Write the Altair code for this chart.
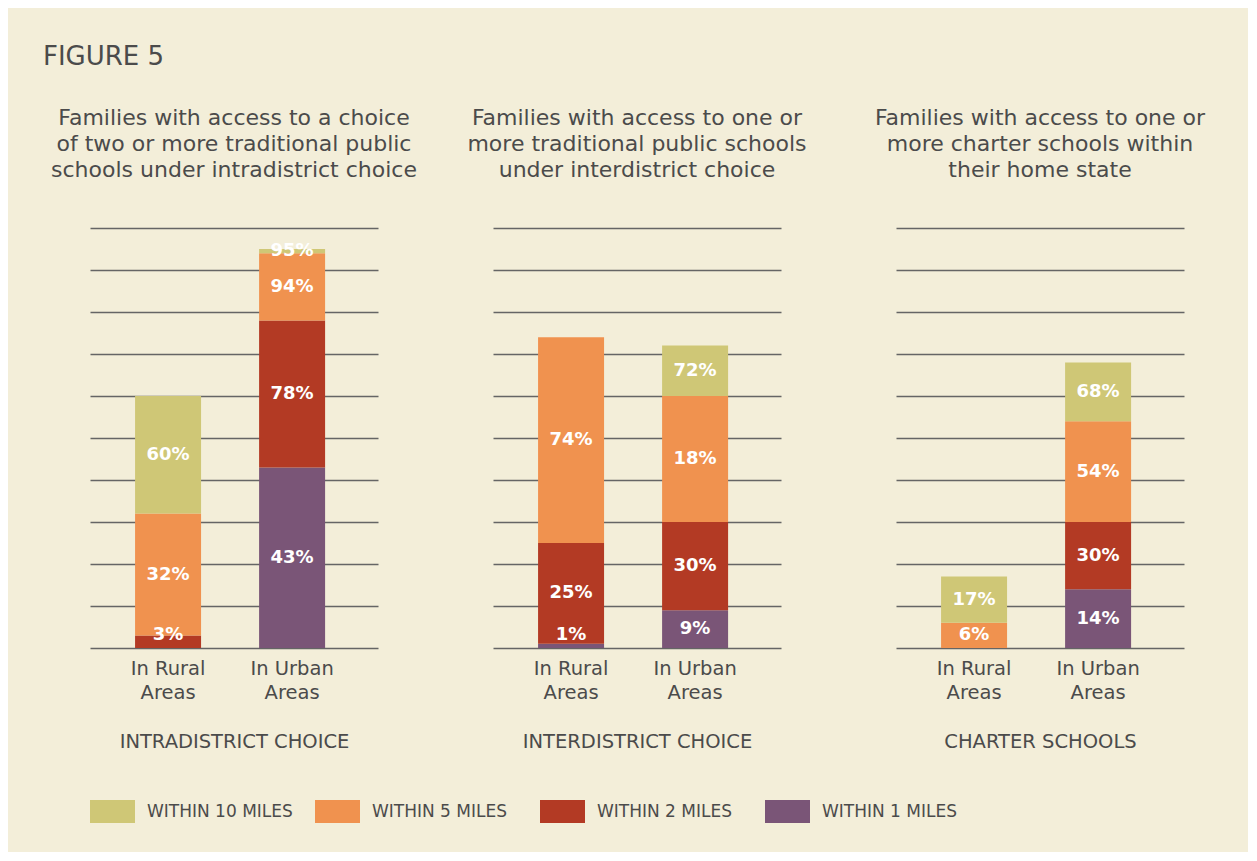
import altair as alt
import pandas as pd

# ---- data ----
panels = ["INTRADISTRICT CHOICE", "INTERDISTRICT CHOICE", "CHARTER SCHOOLS"]
panel_titles = [
    ["Families with access to a choice", "of two or more traditional public", "schools under intradistrict choice"],
    ["Families with access to one or", "more traditional public schools", "under interdistrict choice"],
    ["Families with access to one or", "more charter schools within", "their home state"],
]
areas = ["In Rural\nAreas", "In Urban\nAreas"]
bands = ["WITHIN 1 MILES", "WITHIN 2 MILES", "WITHIN 5 MILES", "WITHIN 10 MILES"]
legend_order = ["WITHIN 10 MILES", "WITHIN 5 MILES", "WITHIN 2 MILES", "WITHIN 1 MILES"]
legend_colors = ["#cfc776", "#f0924f", "#b33a24", "#7a5577"]

# cumulative share (%) reached within 1, 2, 5, 10 miles
intra_rural = [0, 3, 32, 60]
intra_urban = [43, 78, 94, 95]
inter_rural = [1, 25, 74, 74]
inter_urban = [9, 30, 60, 72]
charter_rural = [0, 0, 6, 17]
charter_urban = [14, 30, 54, 68]

intra_rural_labels = ["", "3%", "32%", "60%"]
intra_urban_labels = ["43%", "78%", "94%", "95%"]
inter_rural_labels = ["1%", "25%", "74%", ""]
inter_urban_labels = ["9%", "30%", "18%", "72%"]
charter_rural_labels = ["", "", "6%", "17%"]
charter_urban_labels = ["14%", "30%", "54%", "68%"]

series = {
    (panels[0], areas[0]): (intra_rural, intra_rural_labels),
    (panels[0], areas[1]): (intra_urban, intra_urban_labels),
    (panels[1], areas[0]): (inter_rural, inter_rural_labels),
    (panels[1], areas[1]): (inter_urban, inter_urban_labels),
    (panels[2], areas[0]): (charter_rural, charter_rural_labels),
    (panels[2], areas[1]): (charter_urban, charter_urban_labels),
}

rows = []
for (panel, area), (vals, labs) in series.items():
    prev = 0
    for band, v, lab in zip(bands, vals, labs):
        if v > prev:
            rows.append({"panel": panel, "area": area, "band": band,
                         "lo": prev, "hi": v, "label": lab})
        prev = v
df = pd.DataFrame(rows)

FONT = "DejaVu Sans"
TXT = "#4b4b4b"
BG = "#f3eed9"

color = alt.Color("band:N", scale=alt.Scale(domain=legend_order, range=legend_colors),
                  legend=alt.Legend(
                      orient="none", legendX=0, legendY=561, direction="horizontal",
                      columns=4, gridAlign="all", columnPadding=22, title=None,
                      symbolType="M-1,-0.511H1V0.511H-1Z", symbolSize=2025,
                      symbolStrokeWidth=0, symbolOpacity=1, labelOffset=12,
                      labelFont=FONT, labelFontSize=17, labelColor=TXT, labelLimit=300))


def panel_chart(i):
    base = alt.Chart(df).transform_filter(alt.datum.panel == panels[i])
    x = alt.X("area:N", sort=areas,
              scale=alt.Scale(paddingInner=0.468, paddingOuter=0.395, align=0.46),
              axis=alt.Axis(title=panels[i], domain=False, ticks=False, labelAngle=0,
                            labelExpr="split(datum.label, '\\n')", labelLineHeight=24,
                            labelFont=FONT, labelFontSize=19.5, labelColor=TXT, labelPadding=11,
                            titleFont=FONT, titleFontSize=19.5, titleFontWeight="normal",
                            titleColor=TXT, titlePadding=31))
    y = alt.Y("lo:Q", scale=alt.Scale(domain=[0, 100], nice=False),
              axis=alt.Axis(values=list(range(0, 101, 10)), grid=True, gridColor="#656565",
                            gridWidth=1.5, labels=False, ticks=False, domain=False, title=None))
    bars = base.mark_bar(size=66).encode(x=x, y=y, y2="hi:Q", color=color)
    text = base.transform_calculate(
        mid="max((datum.lo + datum.hi) / 2, 3)"
    ).mark_text(font=FONT, fontSize=18, fontWeight="bold", color="white").encode(
        x=alt.X("area:N", sort=areas),
        y=alt.Y("mid:Q"),
        text="label:N")
    return alt.layer(bars, text).properties(
        width=288, height=420,
        title=alt.TitleParams(panel_titles[i], fontSize=22, lineHeight=26, font=FONT,
                              fontWeight="normal", color=TXT, anchor="middle", offset=46))


chart = alt.hconcat(panel_chart(0), panel_chart(1), panel_chart(2), spacing=115,
                    bounds="flush").properties(
    title=alt.TitleParams("FIGURE 5", anchor="start", frame="group", dx=-47, fontSize=26,
                          font=FONT, fontWeight="normal", color=TXT, offset=37),
    background=BG,
    padding={"left": 35, "top": 36, "right": 42, "bottom": 29},
).configure_view(stroke="transparent", strokeWidth=0).configure_axis(domain=False)

chart.save("out.html", embed_options={"renderer": "svg", "actions": False})
